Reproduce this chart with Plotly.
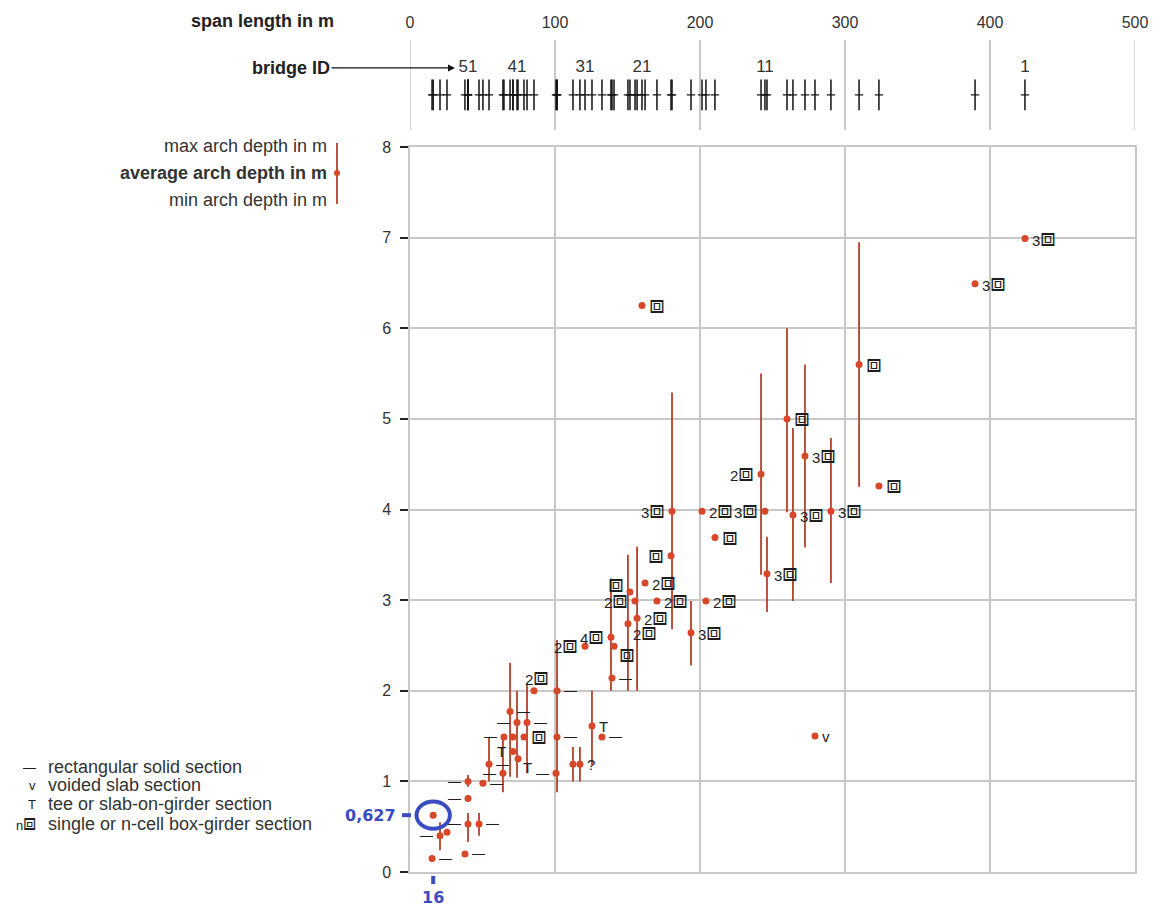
import plotly.graph_objects as go

# ---------------- data ----------------
span = [424.1, 389.7, 323.4, 309.7, 290.3, 279.3, 272.4, 264.1, 260.0, 246.2,
        244.8, 242.1, 210.3, 204.1, 201.4, 193.8, 180.7, 180.0, 170.3, 162.1,
        160.0, 156.6, 155.2, 151.7, 150.3, 140.7, 139.3, 138.6, 132.4, 125.5,
        120.7, 117.2, 112.4, 101.4, 101.4, 100.7, 85.5, 80.7, 78.6, 74.5,
        73.8, 71.0, 71.0, 69.0, 64.8, 64.1, 54.5, 50.3, 47.6, 40.0,
        40.0, 40.0, 37.9, 25.5, 20.7, 16.0, 15.2]
avg_depth = [6.99, 6.49, 4.26, 5.60, 3.98, 1.50, 4.59, 3.94, 5.00, 3.29,
             3.98, 4.39, 3.69, 2.99, 3.98, 2.64, 3.98, 3.49, 2.99, 3.19,
             6.25, 2.80, 2.99, 3.09, 2.74, 2.49, 2.14, 2.59, 1.49, 1.61,
             2.49, 1.19, 1.19, 2.00, 1.49, 1.09, 2.00, 1.65, 1.49, 1.25,
             1.65, 1.33, 1.49, 1.77, 1.49, 1.09, 1.19, 0.98, 0.53, 1.00,
             0.81, 0.53, 0.20, 0.44, 0.40, 0.627, 0.15]
min_depth = [None, None, None, 4.25, 3.19, None, 3.58, 2.99, 3.97, 2.87,
             None, 3.28, None, None, None, 2.28, 2.68, None, None, None,
             None, 2.00, None, None, 2.00, None, None, 2.00, None, 1.18,
             None, 1.00, 1.00, 0.88, None, None, None, 1.09, None, None,
             1.04, None, None, 1.05, None, 0.88, 1.00, None, 0.40, 0.94,
             None, 0.33, None, None, 0.24, None, None]
max_depth = [None, None, None, 6.95, 4.79, None, 5.60, 4.90, 6.00, 3.70,
             None, 5.50, None, None, None, 2.99, 5.29, None, None, None,
             None, 3.59, None, None, 3.50, None, None, 3.24, None, 2.00,
             None, 1.38, 1.38, 2.56, None, None, None, 2.08, None, None,
             2.00, None, None, 2.31, None, 1.49, 1.49, None, 0.65, 1.07,
             None, 0.65, None, None, 0.55, None, None]
# section codes: digit = n-cell box, "b" = single box, "-" rectangular solid,
# "v" voided slab, "T" tee, "?" unknown, "" none
section = ["3", "3", "b", "b", "3", "v", "3", "3", "b", "3",
           "3", "2", "b", "2", "2", "3", "3", "b", "2", "2",
           "b", "2", "2", "b", "2", "b", "-", "4", "-", "T",
           "2", "?", "", "-", "-", "-", "2", "-", "b", "T",
           "-", "T", "", "-", "-", "-", "-", "-", "-", "-",
           "-", "-", "-", "", "-", "", "-"]
label_side = ["r", "r", "r", "r", "r", "r", "r", "r", "r", "r",
              "l", "l", "r", "r", "r", "r", "l", "l", "r", "r",
              "r", "r", "l", "tl", "br", "br", "r", "l", "r", "r",
              "l", "r", "r", "r", "r", "l", "tc", "r", "r", "br",
              "l", "l", "r", "r", "l", "l", "r", "r", "r", "l",
              "l", "l", "r", "r", "l", "r", "r"]
span_ticks = [0, 100, 200, 300, 400, 500]
depth_ticks = [0, 1, 2, 3, 4, 5, 6, 7, 8]
id_labels = [1, 11, 21, 31, 41, 51]
marked_span, marked_depth = 16, 0.627

# ---------------- style ----------------
RED = "#d9472b"
BAR = "#b3412a"
GRID = "#c8c8c8"
TXT = "#333333"
INK = "#1e1e1e"
BLUE = "#3b4cc0"
FONT = "Liberation Sans, Arial, sans-serif"
BOX = "<span style='font-size:25px'>⧈</span>"
DASH = "<span style='font-size:13px'>—</span>"

L, R, T, B = 410, 1135, 40, 872
W, H = 1159, 910
def px(xp):
    return (xp - L) / (R - L)
def py(yp):
    return (B - yp) / (B - T)

n = len(span)
err_plus = [(mx - a) if mx is not None else 0 for mx, a in zip(max_depth, avg_depth)]
err_minus = [(a - mn) if mn is not None else 0 for mn, a in zip(min_depth, avg_depth)]
order = sorted(range(n), key=lambda i: -span[i])
id_x = [span[order[k - 1]] for k in id_labels]

annotations = []
shapes = []

side_fmt = {"r": (5, 0, "left"), "l": (-5, 0, "right"), "tl": (-4, 7, "right"),
            "br": (3, -9, "left"), "tc": (3, 13, "center")}

for xa, ya, code, side in zip(span, avg_depth, section, label_side):
    if code == "":
        continue
    boxed = False
    if code == "-":
        txt = DASH
    elif code in ("v", "T", "?"):
        txt = code
    elif code == "b":
        txt, boxed = BOX, True
    else:
        txt, boxed = code + BOX, True
    xs, ys, anc = side_fmt[side]
    annotations.append(dict(x=xa, y=ya, xref="x", yref="y", text=txt, showarrow=False,
                            xshift=xs, yshift=ys + (2 if boxed else 0),
                            xanchor=anc, yanchor="middle",
                            font=dict(size=15, color=INK, family=FONT)))

fig = go.Figure()

fig.add_trace(go.Scatter(
    x=span, y=avg_depth, mode="markers",
    marker=dict(color=RED, size=7),
    error_y=dict(type="data", symmetric=False, array=err_plus, arrayminus=err_minus,
                 color=BAR, thickness=1.8, width=0),
    xaxis="x", yaxis="y", hoverinfo="x+y"))

# strip: bridge ticks
fig.add_trace(go.Scatter(
    x=span, y=[0.39] * n, mode="markers",
    marker=dict(symbol="line-ns", size=22, line=dict(color="#111111", width=1.5)),
    xaxis="x2", yaxis="y2", hoverinfo="x"))
fig.add_trace(go.Scatter(
    x=span, y=[0.39] * n, mode="markers",
    marker=dict(symbol="line-ew", size=6, line=dict(color="#111111", width=1.2)),
    xaxis="x2", yaxis="y2", hoverinfo="skip"))
fig.add_trace(go.Scatter(
    x=id_x, y=[0.69] * len(id_x), mode="text", text=[str(k) for k in id_labels],
    textfont=dict(size=17, color=TXT, family=FONT),
    xaxis="x2", yaxis="y2", hoverinfo="skip"))

annotations.append(dict(
    x=id_x[-1], y=0.69, xref="x2", yref="y2", text="<b>bridge ID</b>",
    showarrow=True, ax=-177, ay=0, arrowhead=2, arrowsize=1, arrowwidth=1.4,
    arrowcolor="#111111", standoff=13, font=dict(size=18, color="#222222", family=FONT)))
annotations.append(dict(
    x=px(336), y=py(21), xref="paper", yref="paper", xanchor="right", yanchor="middle",
    text="<b>span length in m</b>", showarrow=False,
    font=dict(size=18, color="#222222", family=FONT)))

for txt, yp, bold in [("max arch depth in m", 146, False),
                      ("average arch depth in m", 173, True),
                      ("min arch depth in m", 200, False)]:
    annotations.append(dict(
        x=px(329), y=py(yp), xref="paper", yref="paper", xanchor="right", yanchor="middle",
        text=("<b>%s</b>" % txt) if bold else txt, showarrow=False,
        font=dict(size=18, color=TXT, family=FONT)))

leg_rows = [("—", "rectangular solid section", 767, 0),
            ("v", "voided slab section", 785, 0),
            ("T", "tee or slab-on-girder section", 804, 0),
            ("n<span style='font-size:21px'>⧈</span>",
             "single or n-cell box-girder section", 824, 2)]
for sym, txt, yp, ys in leg_rows:
    annotations.append(dict(
        x=px(38), y=py(yp), xref="paper", yref="paper", xanchor="right", yanchor="middle",
        yshift=ys, text=sym, showarrow=False, font=dict(size=13, color=INK, family=FONT)))
    annotations.append(dict(
        x=px(46), y=py(yp), xref="paper", yref="paper", xanchor="left", yanchor="middle",
        text=txt, showarrow=False, font=dict(size=18, color=TXT, family=FONT)))

annotations.append(dict(
    x=0, y=marked_depth, xref="paper", yref="y", xanchor="right", yanchor="middle",
    xshift=-12, text="<b>0,627</b>", showarrow=False,
    font=dict(size=16, color=BLUE, family="DejaVu Sans, " + FONT)))
annotations.append(dict(
    x=marked_span, y=py(897), xref="x", yref="paper", xanchor="center", yanchor="middle",
    text="<b>16</b>", showarrow=False,
    font=dict(size=16, color=BLUE, family="DejaVu Sans, " + FONT)))

shapes.append(dict(type="line", xref="paper", yref="paper",
                   x0=px(337), x1=px(337), y0=py(143), y1=py(204),
                   line=dict(color=BAR, width=1.8)))
shapes.append(dict(type="circle", xref="paper", yref="paper",
                   x0=px(334), x1=px(340), y0=py(170), y1=py(176),
                   fillcolor=RED, line=dict(color=RED, width=0)))
shapes.append(dict(type="circle", xref="x", yref="y",
                   x0=marked_span - 11.5, x1=marked_span + 11.5,
                   y0=marked_depth - 0.15, y1=marked_depth + 0.15,
                   line=dict(color=BLUE, width=4)))
shapes.append(dict(type="line", xref="paper", yref="y",
                   x0=px(402), x1=px(411), y0=marked_depth, y1=marked_depth,
                   line=dict(color=BLUE, width=4)))
shapes.append(dict(type="line", xref="x", yref="paper",
                   x0=marked_span, x1=marked_span, y0=py(876), y1=py(884),
                   line=dict(color=BLUE, width=4)))
for v in (span_ticks[0], span_ticks[-1]):
    shapes.append(dict(type="line", xref="x2", yref="y2 domain",
                       x0=v, x1=v, y0=0, y1=1, line=dict(color=GRID, width=1.5),
                       layer="below"))

fig.update_layout(
    width=W, height=H,
    margin=dict(l=L, r=W - R, t=T, b=H - B, pad=0),
    paper_bgcolor="white", plot_bgcolor="white",
    showlegend=False,
    font=dict(family=FONT, color=TXT),
    xaxis=dict(domain=[0, 1], range=[0, 500], tickvals=span_ticks, showticklabels=False,
               showgrid=True, gridcolor=GRID, gridwidth=1.5, zeroline=False,
               showline=True, linecolor=GRID, linewidth=1.5, mirror=True,
               ticks="", anchor="y", automargin=False),
    yaxis=dict(domain=[0, py(147)], range=[0, 8], tickvals=depth_ticks,
               showgrid=True, gridcolor=GRID, gridwidth=1.5, zeroline=False,
               showline=True, linecolor=GRID, linewidth=1.5, mirror=True,
               ticks="outside", ticklen=8, tickwidth=1.5, tickcolor="#222222",
               tickfont=dict(size=16, color=TXT), ticklabelstandoff=6,
               anchor="x", automargin=False),
    xaxis2=dict(domain=[0, 1], range=[0, 500], tickvals=span_ticks, side="top",
                showgrid=True, gridcolor=GRID, gridwidth=1.5, zeroline=False,
                showline=False, ticks="", tickfont=dict(size=16, color=TXT),
                ticklabelstandoff=8, anchor="y2", automargin=False),
    yaxis2=dict(domain=[py(130), 1], range=[0, 1], visible=False, anchor="x2",
                automargin=False),
    annotations=annotations,
    shapes=shapes,
)

fig.write_html("out.html")
